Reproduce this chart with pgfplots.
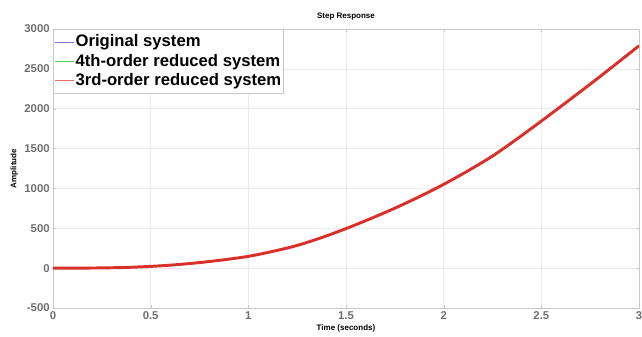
\documentclass[border=0pt]{standalone}
\usepackage{pgfplots}
\pgfplotsset{compat=1.18}
\usepackage{fontspec}
\setmainfont{Liberation Sans}
\definecolor{tickgray}{RGB}{110,110,110}
\definecolor{axgray}{RGB}{200,200,200}
\definecolor{gridgray}{RGB}{235,235,235}
\definecolor{mred}{RGB}{217,48,42}
\definecolor{mblue}{RGB}{120,120,230}
\definecolor{mgreen}{RGB}{90,200,90}
\pgfplotstableread{
t y
0 0
0.125 0.3
0.25 3
0.375 9
0.5 22
0.625 42
0.75 70
0.875 105
1.0 148
1.125 210
1.25 285
1.375 383
1.5 496
1.625 620
1.75 752
1.875 896
2.0 1051
2.125 1222
2.25 1406
2.375 1620
2.5 1845
2.625 2075
2.75 2308
2.875 2547
3.0 2790
}\resp
\begin{document}
\begin{tikzpicture}
\begin{axis}[
  scale only axis,
  width=439.5pt, height=209.25pt,
  xmin=0, xmax=3, ymin=-500, ymax=3000,
  xtick={0,0.5,...,3}, ytick={-500,0,...,3000},
  xticklabels={0,0.5,1,1.5,2,2.5,3},
  grid=major,
  grid style={gridgray, line width=0.5pt},
  axis line style={axgray, line width=0.6pt},
  tick style={axgray},
  major tick length=2.5pt,
  tick align=inside,
  xtick pos=both, ytick pos=both,
  /pgf/number format/assume math mode=true,
  /pgf/number format/1000 sep={},
  ticklabel style={font=\fontsize{8.5}{9}\selectfont\bfseries, text=tickgray},
  xticklabel style={yshift=1pt},
  yticklabel style={xshift=1pt},
  title={Step Response},
  title style={font=\fontsize{6}{7}\selectfont\bfseries, yshift=-3pt},
  xlabel={Time (seconds)},
  xlabel style={font=\fontsize{6}{7}\selectfont\bfseries, yshift=3pt},
  ylabel={Amplitude},
  ylabel style={font=\fontsize{6}{7}\selectfont\bfseries, yshift=-2pt},
  legend style={at={(0,1)}, anchor=north west, draw=axgray, line width=0.6pt,
    font=\fontsize{12.5}{15}\selectfont\bfseries, inner xsep=1pt, inner ysep=2pt,
    row sep=0pt, fill=white, nodes={inner xsep=1pt}},
  legend cell align=left,
  legend image code/.code={\draw[#1] (0cm,0cm) -- (0.5cm,0cm);},
]
\addplot[mblue, line width=0.6pt, forget plot] table[x=t,y=y]{\resp};
\addplot[mgreen, line width=0.6pt, forget plot] table[x=t,y=y]{\resp};
\addplot[mred, line width=2.2pt, smooth, tension=0.5, forget plot] table[x=t,y=y]{\resp};
\addlegendimage{mblue, line width=0.4pt}
\addlegendentry{Original system}
\addlegendimage{mgreen, line width=0.4pt}
\addlegendentry{4th-order reduced system}
\addlegendimage{mred!70, line width=0.4pt}
\addlegendentry{3rd-order reduced system}
\end{axis}
\pgfresetboundingbox
\path ([shift={(-39.75pt,-21pt)}]current axis.south west) rectangle ([shift={(2.25pt,21.75pt)}]current axis.north east);
\end{tikzpicture}
\end{document}
